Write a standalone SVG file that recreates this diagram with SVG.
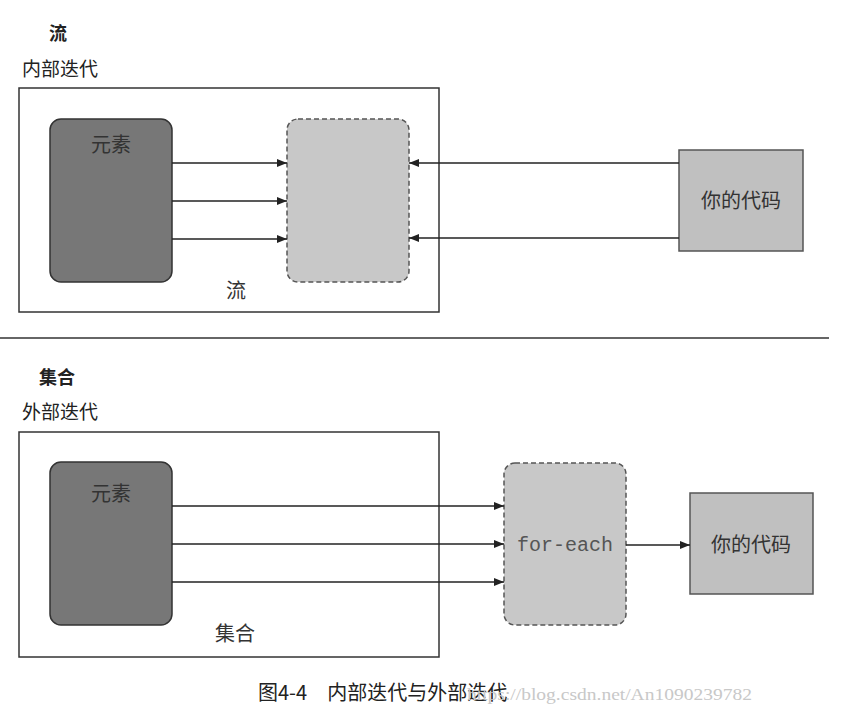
<svg xmlns="http://www.w3.org/2000/svg" width="856" height="723" viewBox="0 0 856 723">
<style>
.t{font-family:"Noto Sans CJK SC","Noto Sans",sans-serif;fill:#222;}
.title{font-size:18px;font-weight:bold;}
.sub{font-size:19px;}
.lbl{font-size:20px;fill:#333;}
.frame{fill:#fff;stroke:#333;stroke-width:1.5;}
.elem{fill:#777;stroke:#333;stroke-width:1.5;}
.dash{fill:#c8c8c8;stroke:#555;stroke-width:1.5;stroke-dasharray:5,3;}
.code{fill:#c0c0c0;stroke:#555;stroke-width:1.5;}
.conn{stroke:#222;stroke-width:1.5;fill:none;marker-end:url(#ah);}
</style>
<defs>
<marker id="ah" viewBox="0 0 10 8" refX="10" refY="4" markerWidth="10" markerHeight="8" markerUnits="userSpaceOnUse" orient="auto">
<path d="M0,0 L10,4 L0,8 z" fill="#222"/>
</marker>
</defs>
<rect width="856" height="723" fill="#fff"/>

<g id="top-section">
<text class="t title" x="58" y="40" text-anchor="middle">流</text>
<text class="t sub" x="22" y="76">内部迭代</text>
<rect id="top-frame" class="frame" x="19" y="88" width="420" height="224"/>
<text class="t lbl" x="236" y="298" text-anchor="middle">流</text>
</g>
<g id="top-elements">
<rect class="elem" x="50" y="119" width="122" height="163" rx="11"/>
<text class="t lbl" x="111" y="152" text-anchor="middle">元素</text>
</g>
<g id="top-stream">
<rect class="dash" x="287" y="119" width="122" height="163" rx="11"/>
</g>
<g id="top-code">
<rect class="code" x="679" y="150" width="124" height="101"/>
<text class="t lbl" x="741" y="208" text-anchor="middle">你的代码</text>
</g>

<line x1="0" y1="338" x2="829" y2="338" stroke="#333" stroke-width="1.5"/>

<g id="bottom-section">
<text class="t title" x="57" y="384" text-anchor="middle">集合</text>
<text class="t sub" x="22" y="419">外部迭代</text>
<rect id="bottom-frame" class="frame" x="19" y="432" width="420" height="225"/>
<text class="t lbl" x="235" y="641" text-anchor="middle">集合</text>
</g>
<g id="bottom-elements">
<rect class="elem" x="50" y="462" width="122" height="163" rx="11"/>
<text class="t lbl" x="111" y="501" text-anchor="middle">元素</text>
</g>
<g id="bottom-foreach">
<rect class="dash" x="504" y="463" width="122" height="162" rx="11"/>
<text x="565" y="551" text-anchor="middle" font-family="'Liberation Mono',monospace" font-size="20" fill="#555">for-each</text>
</g>
<g id="bottom-code">
<rect class="code" x="690" y="493" width="123" height="101"/>
<text class="t lbl" x="751" y="552" text-anchor="middle">你的代码</text>
</g>

<g id="connectors">
<line class="conn" x1="172" y1="163" x2="287" y2="163"/>
<line class="conn" x1="172" y1="201" x2="287" y2="201"/>
<line class="conn" x1="172" y1="239" x2="287" y2="239"/>
<line class="conn" x1="679" y1="163" x2="409" y2="163"/>
<line class="conn" x1="679" y1="238" x2="409" y2="238"/>
<line class="conn" x1="172" y1="506" x2="504" y2="506"/>
<line class="conn" x1="172" y1="544" x2="504" y2="544"/>
<line class="conn" x1="172" y1="582" x2="504" y2="582"/>
<line class="conn" x1="626" y1="545" x2="690" y2="545"/>
</g>

<text class="t" x="258" y="700" font-size="20" fill="#333">图4-4　内部迭代与外部迭代</text>
<text x="467" y="700" font-family="'Liberation Serif',serif" font-size="16" fill="#c8c8c8" textLength="285" lengthAdjust="spacingAndGlyphs">https://blog.csdn.net/An1090239782</text>
</svg>
